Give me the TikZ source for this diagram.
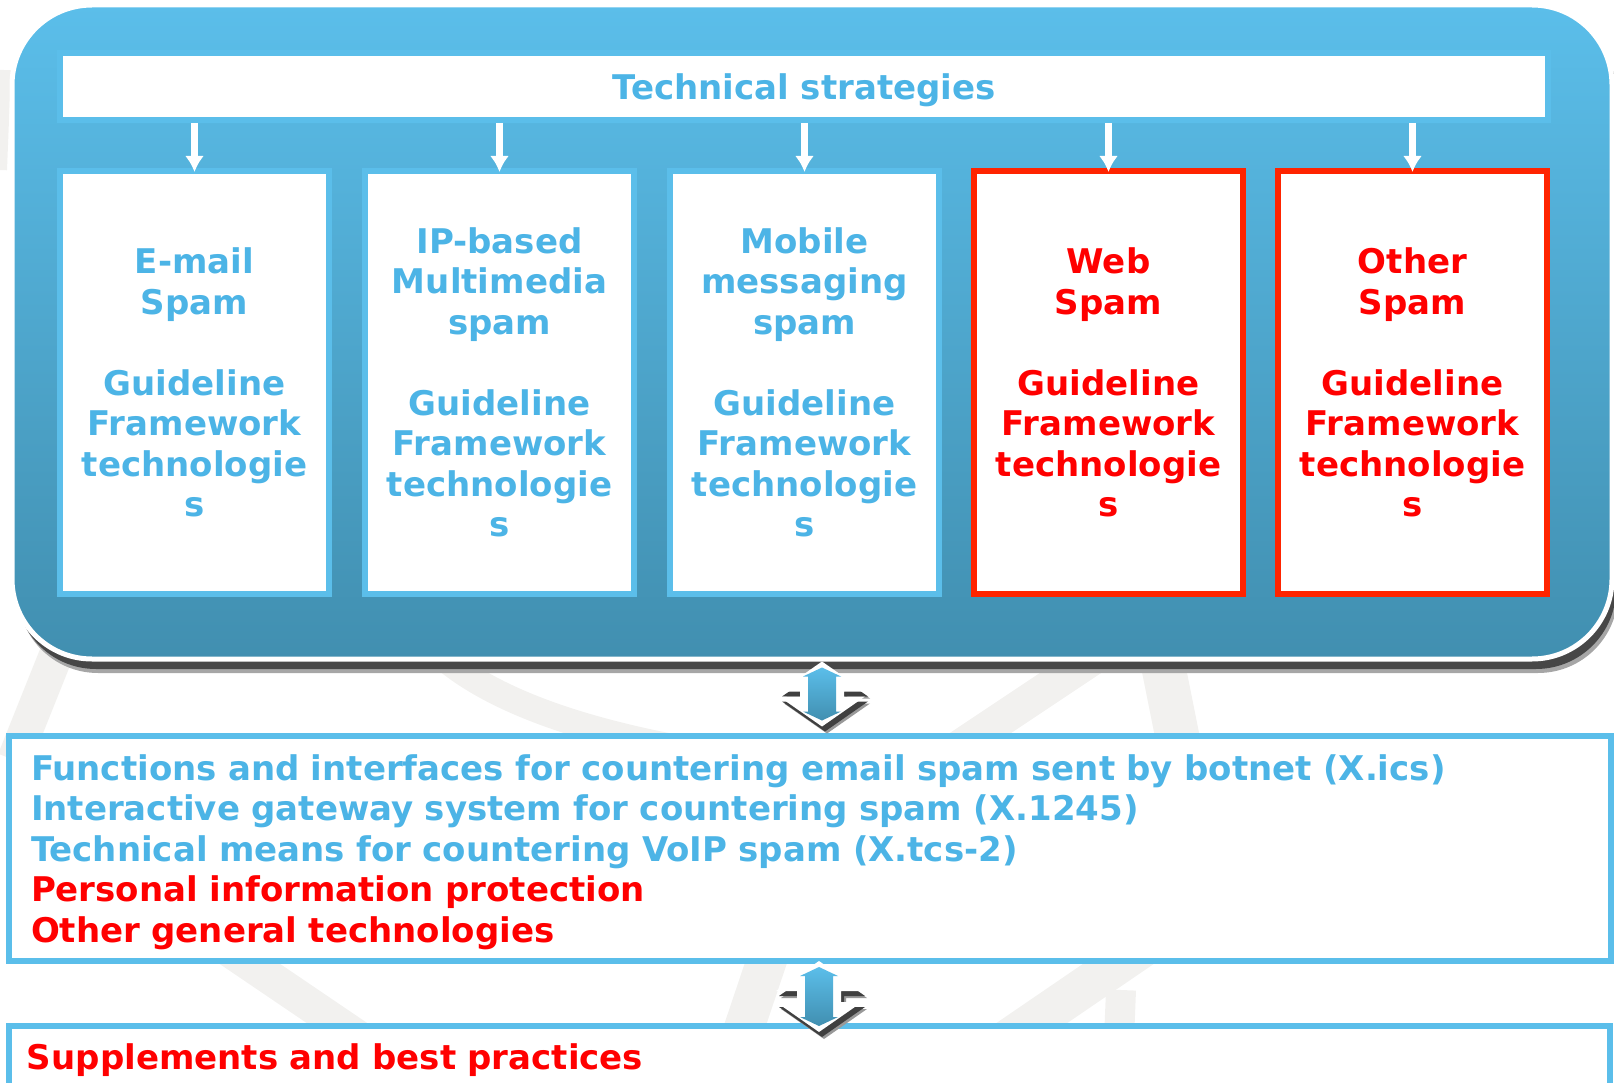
\documentclass[tikz,border=0pt]{standalone}
\usepackage{fontspec}
\setmainfont{DejaVu Sans}
\usetikzlibrary{positioning}
\usetikzlibrary{calc}
\usetikzlibrary{arrows.meta,shadows}

\definecolor{skyblue}{RGB}{91,190,234}
\definecolor{deepblue}{RGB}{65,143,176}
\definecolor{inkblue}{RGB}{76,180,230}
\definecolor{alarmred}{RGB}{255,36,0}
\definecolor{inkred}{RGB}{255,0,0}
\definecolor{swoosh}{RGB}{242,241,239}

\tikzset{
  words/.style={font=\bfseries\fontsize{34}{40.5}\selectfont},
  panel/.style={draw=white, line width=5pt, rounded corners=80pt, top color=skyblue, bottom color=deepblue, inner sep=0pt, minimum width=1600pt, minimum height=654pt,
    drop shadow={shadow xshift=6pt, shadow yshift=-14pt, fill=black!35, opacity=1},
    drop shadow={shadow xshift=4pt, shadow yshift=-10pt, fill=black!72, opacity=1}},
  headbox/.style={words, draw=skyblue, fill=white, line width=6pt, minimum width=1488pt, minimum height=67pt, inner sep=0pt, text depth=0pt, text=inkblue},
  spambox/.style={words, draw=skyblue, fill=white, line width=6pt, minimum width=269pt, minimum height=423pt, inner sep=0pt, align=center, text=inkblue},
  newbox/.style={spambox, draw=alarmred, text=inkred},
  link/.style={white, line width=6.5pt, -{Latex[length=16pt,width=19pt]}, shorten >=-4pt},
  listbox/.style={words, draw=skyblue, fill=white, line width=6pt, inner xsep=22pt, inner ysep=0pt, text width=1558pt, align=left, text=inkblue},
  plate/.style={fill=white,
    drop shadow={shadow xshift=5pt, shadow yshift=-7pt, fill=black!40, opacity=1},
    drop shadow={shadow xshift=3pt, shadow yshift=-5pt, fill=black!75, opacity=1}},
  twoway/.style={top color=skyblue, bottom color=deepblue},
  trail/.style={swoosh, line width=34pt}
}

\newcommand\dualarrow[2]{%
  \path[plate] ($(#1)+(0,-#2-6)$) -- ($(#1)+(43,24-#2)$) -- ($(#1)+(22,24-#2)$) -- ($(#1)+(22,#2-24)$) -- ($(#1)+(43,#2-24)$) -- ($(#1)+(0,#2+6)$) -- ($(#1)+(-43,#2-24)$) -- ($(#1)+(-22,#2-24)$) -- ($(#1)+(-22,24-#2)$) -- ($(#1)+(-43,24-#2)$) -- cycle;
  \path[twoway] ($(#1)+(0,-#2)$) -- ++(19,9) -- ++(-5,0) -- ($(#1)+(14,#2-9)$) -- ++(5,0) -- ($(#1)+(0,#2)$) -- ++(-19,-9) -- ++(5,0) -- ($(#1)+(-14,9-#2)$) -- ++(-5,0) -- cycle;}

\begin{document}
\begin{tikzpicture}[x=1pt,y=-1pt]
\useasboundingbox (0,0) rectangle (1614,1083);
\draw[trail, line width=14pt] (4,70) -- (0,170);
\draw[trail] (66,630) -- (14,760);
\draw[trail, line width=26pt] (425,640) .. controls (470,690) and (560,728) .. (700,752);
\draw[trail] (1120,640) -- (955,750);
\draw[trail, line width=44pt] (1158,640) -- (1180,750);
\draw[trail] (222,945) -- (362,1040);
\draw[trail, line width=40pt] (772,945) -- (740,1040);
\draw[trail, line width=40pt] (1146,945) -- (1007,1040);
\draw[trail, line width=30pt] (1121,990) -- (1119,1040);

\node[panel](panel) at (812,332){};
\node[headbox](strategies) at (804,86.5){Technical strategies};
\node[spambox](email) at (194.5,382.5){E-mail\\Spam\\[40.5pt]Guideline\\Framework\\technologie\\s};
\node[spambox](ipmedia) at ($(email)+(305,0)$){IP-based\\Multimedia\\spam\\[40.5pt]Guideline\\Framework\\technologie\\s};
\node[spambox](mobile) at ($(email)+(610,0)$){Mobile\\messaging\\spam\\[40.5pt]Guideline\\Framework\\technologie\\s};
\node[newbox](web) at ($(email)+(914,0)$){Web\\Spam\\[40.5pt]Guideline\\Framework\\technologie\\s};
\node[newbox](other) at ($(email)+(1218,0)$){Other\\Spam\\[40.5pt]Guideline\\Framework\\technologie\\s};

\path
(strategies.south -| email.north) edge[link] (email.north)
(strategies.south -| ipmedia.north) edge[link] (ipmedia.north)
(strategies.south -| mobile.north) edge[link] (mobile.north)
(strategies.south -| web.north) edge[link] (web.north)
(strategies.south -| other.north) edge[link] (other.north);

\node[listbox, text depth=162pt, minimum height=225pt](gateways) at (810,848.5){Functions and interfaces for countering email spam sent by botnet (X.ics)\\Interactive gateway system for countering spam (X.1245)\\Technical means for countering VoIP spam (X.tcs-2)\\\textcolor{inkred}{Personal information protection}\\\textcolor{inkred}{Other general technologies}};
\node[listbox, text=inkred, text depth=4pt, inner xsep=18pt, text width=1564.5pt, minimum height=66pt](practices) at (809.25,1058.5){Supplements and best practices};

\coordinate (upper) at ($(panel.south)+(10,32.5)$);
\coordinate (lower) at ($(gateways.south)+(9,32.5)$);
\dualarrow{upper}{26.5}
\dualarrow{lower}{29.5}
\end{tikzpicture}
\end{document}
